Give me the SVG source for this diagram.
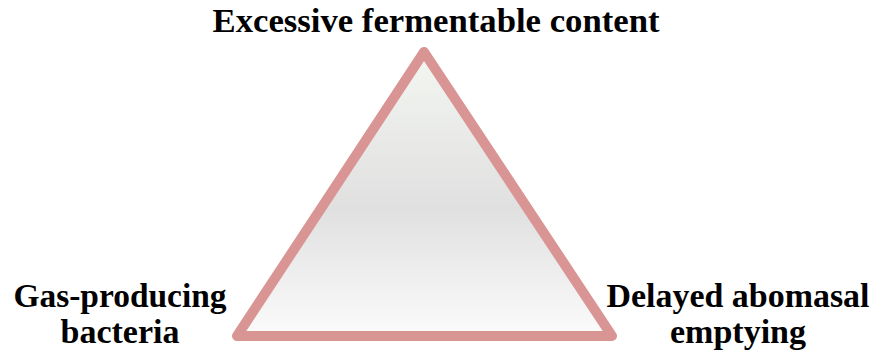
<svg xmlns="http://www.w3.org/2000/svg" width="876" height="351" viewBox="0 0 876 351">
<defs>
<linearGradient id="g" x1="0" y1="0" x2="0" y2="1">
<stop offset="0" stop-color="#f3f6f1"/>
<stop offset="0.55" stop-color="#e0e0e0"/>
<stop offset="1" stop-color="#fbfbfb"/>
</linearGradient>
<style>
.t{font-family:"Liberation Serif","Times New Roman",serif;font-weight:bold;font-size:34px;fill:#000;text-anchor:middle}
</style>
</defs>
<rect width="876" height="351" fill="#fff"/>
<g id="triangle">
<polygon points="424,52 237,336 612,336" fill="url(#g)" stroke="#d99594" stroke-width="10" stroke-linejoin="round"/>
</g>
<g id="top"><text class="t" x="436" y="32" textLength="447" lengthAdjust="spacingAndGlyphs">Excessive fermentable content</text></g>
<g id="left"><text class="t" x="120" y="307" textLength="213" lengthAdjust="spacingAndGlyphs">Gas-producing</text><text class="t" x="120" y="343">bacteria</text></g>
<g id="right"><text class="t" x="738" y="307" textLength="263" lengthAdjust="spacingAndGlyphs">Delayed abomasal</text><text class="t" x="738" y="343">emptying</text></g>
<g id="connectors"/>
</svg>
